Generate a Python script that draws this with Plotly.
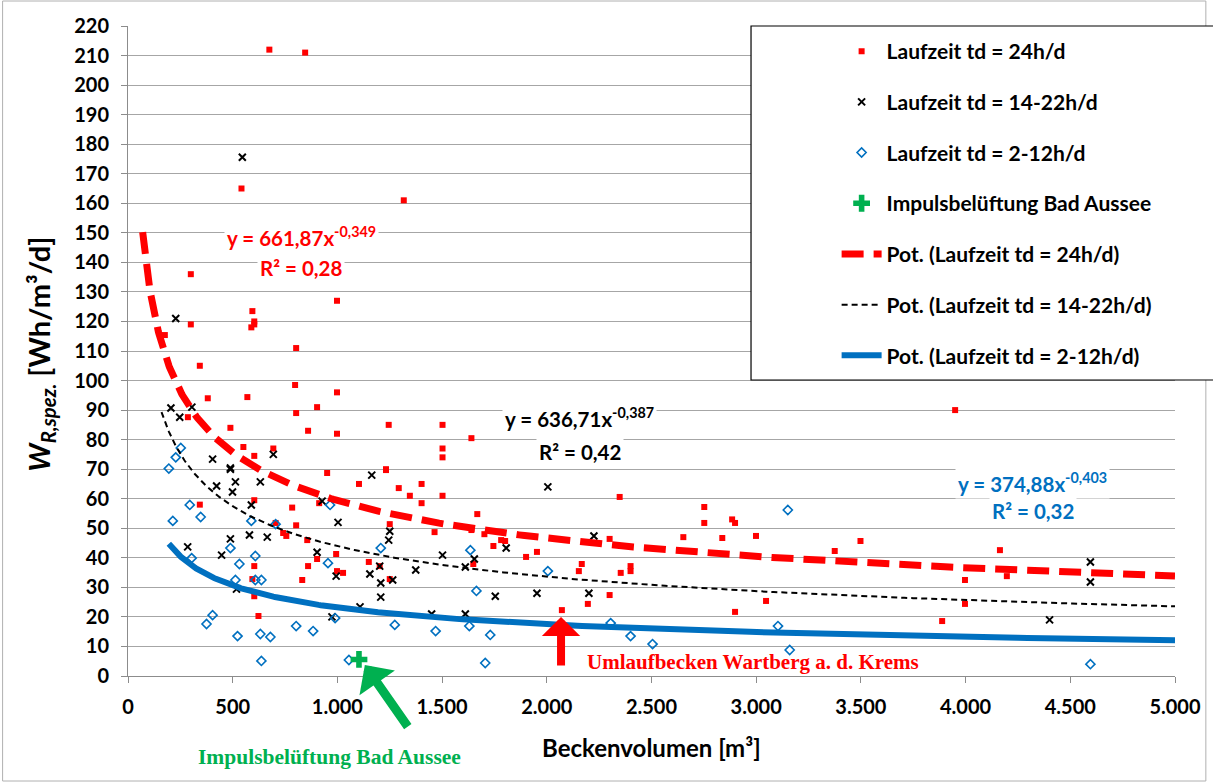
import numpy as np
import plotly.graph_objects as go

# ---------------- data ----------------
red_x = [675, 846, 542, 1317, 300, 594, 603, 603, 589, 998, 300, 176, 803, 343, 798, 998,
         381, 570, 903, 803, 286, 489, 860, 1245, 1502, 998, 551, 694, 603, 1502, 1502, 1232,
         951, 1232, 1103, 1293, 1402, 1346, 1502, 1402, 343, 603, 913, 784, 705, 803, 1250,
         1464, 741, 756, 856, 994, 903, 603, 860, 1150, 1202, 998, 1027, 594, 832, 1250, 603,
         623, 1640, 2348, 1668, 2752, 2752, 2885, 2899, 1640, 1702, 1782, 1801, 1745, 2300,
         2652, 2838, 2999, 1901, 1953, 1649, 2167, 2153, 2353, 2400, 2400, 2300, 2196, 2072,
         3047, 2899, 3950, 3498, 3375, 4164, 3997, 4197, 3997, 3888]
red_y = [212, 211, 165, 161, 136, 123.5, 120, 119, 118, 127, 119, 115.4, 111, 105, 98.5, 96,
         94, 94.4, 91, 89, 87.6, 84, 83, 85, 85, 82, 77.5, 77, 74.5, 77, 74, 70,
         68.7, 69.7, 65, 63.6, 65, 61, 61, 58.5, 58, 59.5, 58.5, 57, 51.8, 51, 51.4,
         48.7, 48.4, 47.4, 46, 41.3, 39.6, 37.2, 37.2, 38.6, 37.2, 35.5, 34.9, 32.8, 32.5, 32.8, 27,
         20.3, 80.5, 60.6, 54.8, 57.2, 51.8, 53, 51.8, 49.4, 48, 46, 45.7, 44, 46.4,
         47, 46.7, 47.4, 40.3, 42, 37.9, 37.9, 35.5, 34.9, 37.2, 35.5, 27.4, 24.4, 22.3,
         25.4, 21.7, 90, 45.7, 42.3, 42.6, 32.5, 33.8, 24.4, 18.6]

black_x = [546, 228, 205, 305, 247, 404, 694, 489, 489, 423, 513, 632, 1164, 499, 589, 927,
           1003, 1250, 1245, 489, 580, 665, 285, 447, 903, 1502, 1202, 1374, 994, 1155, 1207,
           1264, 1207, 518, 1108, 974, 1450, 2005, 2225, 1806, 1654, 1611, 1754, 1953, 2201,
           1611, 4596, 4596, 4401]
black_y = [175.6, 121, 90.7, 91, 87.6, 73.4, 75, 70.4, 70, 64.3, 65.7, 65.7, 68, 62.3, 57.9, 59.2,
           52, 49, 46, 46.4, 47.7, 47, 43.7, 40.9, 41.9, 40.9, 37.2, 35.9, 33.8, 34.5, 31.5,
           32.5, 26.7, 29.4, 23.4, 20, 21, 64, 47.4, 43.3, 39.6, 36.9, 27, 28, 28,
           21, 38.6, 31.8, 19]

blue_x = [252, 228, 195, 295, 214, 347, 965, 589, 705, 489, 304, 608, 532, 1207, 955, 513,
          608, 637, 404, 375, 803, 989, 1274, 884, 1469, 523, 632, 680, 637, 1055, 1635,
          2005, 1664, 1630, 1730, 2305, 2400, 2505, 1706, 3104, 3151, 3160, 4596]
blue_y = [77.2, 74, 70.2, 57.9, 52.5, 53.8, 57.9, 52.5, 51.4, 43.3, 39.9, 40.6, 37.9, 43.3, 38.2, 32.5,
          32.5, 32.5, 20.6, 17.6, 16.9, 19.6, 17.3, 15.2, 15.2, 13.5, 14.2, 13.2, 5.1, 5.4, 42.6,
          35.5, 28.8, 16.9, 13.9, 17.9, 13.5, 10.8, 4.4, 16.9, 56.2, 8.8, 4]

green_x = [1103]
green_y = [5.6]

# power trend lines y = a * x^b (coefficients as printed in the chart)
trend_a = [661.87, 636.71, 374.88]
trend_b = [-0.349, -0.387, -0.403]
trend_xmin = [70, 160, 195]
trend_xmax = 5000

x_tickvals = [0, 500, 1000, 1500, 2000, 2500, 3000, 3500, 4000, 4500, 5000]
x_ticktext = ["0", "500", "1.000", "1.500", "2.000", "2.500", "3.000", "3.500", "4.000", "4.500", "5.000"]
y_tickvals = list(range(0, 221, 10))

names = ["Laufzeit td = 24h/d", "Laufzeit td = 14-22h/d", "Laufzeit td = 2-12h/d",
         "Impulsbelüftung Bad Aussee", "Pot. (Laufzeit td = 24h/d)",
         "Pot. (Laufzeit td = 14-22h/d)", "Pot. (Laufzeit td = 2-12h/d)"]

RED = "#ff0000"
BLUE = "#0070c0"
GREEN = "#00b050"
FONT = "Lato"

fig = go.Figure()

fig.add_trace(go.Scatter(x=red_x, y=red_y, mode="markers", name=names[0], legendgroup="g1",
                         marker=dict(symbol="square", size=6, color=RED)))
fig.add_trace(go.Scatter(x=black_x, y=black_y, mode="markers", name=names[1], legendgroup="g2",
                         marker=dict(symbol="x-thin", size=7, color="black",
                                     line=dict(color="black", width=2))))
fig.add_trace(go.Scatter(x=blue_x, y=blue_y, mode="markers", name=names[2], legendgroup="g3",
                         marker=dict(symbol="diamond-open", size=7, color=BLUE,
                                     line=dict(color=BLUE, width=1.6))))
fig.add_trace(go.Scatter(x=green_x, y=green_y, mode="markers", name=names[3], legendgroup="g4",
                         marker=dict(symbol="cross", size=14, color=GREEN)))

styles = [dict(color=RED, width=7, dash="22px,10px"),
          dict(color="black", width=2, dash="6px,4px"),
          dict(color=BLUE, width=6, dash="solid")]
for i in range(3):
    xs = np.geomspace(trend_xmin[i], trend_xmax, 300)
    ys = trend_a[i] * xs ** trend_b[i]
    fig.add_trace(go.Scatter(x=xs, y=ys, mode="lines", name=names[4 + i],
                             legendgroup="g%d" % (5 + i), line=styles[i]))

# ---------------- layout ----------------
L, R, T, B = 128, 33, 26, 107
W, H = 1213, 783
pw, ph = W - L - R, H - T - B


def px2paper_x(px):
    return (px - L) / pw


def px2paper_y(py):
    return (H - B - py) / ph


fig.update_layout(
    width=W, height=H,
    margin=dict(l=L, r=R, t=T, b=B),
    paper_bgcolor="white", plot_bgcolor="white",
    font=dict(family=FONT, color="black"),
    showlegend=True,
    legend=dict(x=px2paper_x(840), y=px2paper_y(31), xanchor="left", yanchor="top",
                bgcolor="rgba(0,0,0,0)", borderwidth=0,
                font=dict(family=FONT, size=21, color="black", weight="bold"),
                tracegroupgap=20.4, itemwidth=40),
    xaxis=dict(range=[0, 5000], tickvals=x_tickvals, ticktext=x_ticktext,
               showgrid=False, zeroline=False, showline=True, linecolor="#8c8c8c", linewidth=1,
               ticks="outside", ticklen=6, tickcolor="#8c8c8c", ticklabelstandoff=7,
               tickfont=dict(family=FONT, size=20, color="black", weight="bold")),
    yaxis=dict(range=[0, 220], tickvals=y_tickvals,
               showgrid=True, gridcolor="#a6a6a6", gridwidth=1.3, zeroline=False,
               showline=True, linecolor="#8c8c8c", linewidth=1,
               ticks="outside", ticklen=6, tickcolor="#8c8c8c", ticklabelstandoff=8,
               tickfont=dict(family=FONT, size=20, color="black", weight="bold")),
)

shapes = [
    # legend box
    dict(type="rect", xref="paper", yref="paper", layer="above",
         x0=px2paper_x(754), x1=px2paper_x(1225), y0=px2paper_y(380), y1=px2paper_y(26),
         line=dict(color="black", width=1.2), fillcolor="white"),
    # outer chart border
    dict(type="rect", xref="paper", yref="paper", layer="below",
         x0=px2paper_x(2), x1=px2paper_x(1211), y0=px2paper_y(781), y1=px2paper_y(1),
         line=dict(color="#b0b0b0", width=1), fillcolor="rgba(0,0,0,0)"),
]
fig.update_layout(shapes=shapes)

eq_font = dict(family=FONT, size=20.5, weight="bold")
ann = []


def eq(x, y, text, color):
    ann.append(dict(x=x, y=y, xref="x", yref="y", text=text, showarrow=False,
                    font=dict(eq_font, color=color), bgcolor="white", borderpad=2,
                    xanchor="center", yanchor="middle"))


eq(827, 148.6, "y = 661,87x<sup>-0,349</sup>", RED)
eq(827, 138.1, "R² = 0,28", RED)
eq(2158, 87.6, "y = 636,71x<sup>-0,387</sup>", "black")
eq(2158, 75.8, "R² = 0,42", "black")
eq(4320, 65.6, "y = 374,88x<sup>-0,403</sup>", BLUE)
eq(4320, 55.8, "R² = 0,32", BLUE)

# axis titles
ann.append(dict(x=px2paper_x(654), y=px2paper_y(747), xref="paper", yref="paper",
                text="Beckenvolumen [m³]", showarrow=False, xanchor="center", yanchor="middle",
                font=dict(family=FONT, size=24, weight="bold", color="black")))
ann.append(dict(x=px2paper_x(40), y=px2paper_y(354), xref="paper", yref="paper",
                text="<i>W</i><sub><i>R,spez.</i></sub> [Wh/m³/d]", textangle=-90,
                showarrow=False, xanchor="center", yanchor="middle",
                font=dict(family=FONT, size=29, weight="bold", color="black")))

# callouts
ann.append(dict(x=2068, y=20, xref="x", yref="y", text="", showarrow=True,
                ax=0, ay=50, arrowhead=1, arrowsize=0.8, arrowwidth=8, arrowcolor=RED))
ann.append(dict(x=2182, y=4.7, xref="x", yref="y",
                text="Umlaufbecken Wartberg a. d. Krems", showarrow=False,
                xanchor="left", yanchor="middle",
                font=dict(family="Liberation Serif", size=21, weight="bold", color=RED)))
ann.append(dict(x=1131, y=3.7, xref="x", yref="y", text="", showarrow=True,
                ax=44, ay=63, arrowhead=1, arrowsize=0.8, arrowwidth=9, arrowcolor=GREEN))
ann.append(dict(x=px2paper_x(330), y=px2paper_y(757), xref="paper", yref="paper",
                text="Impulsbelüftung Bad Aussee", showarrow=False,
                xanchor="center", yanchor="middle",
                font=dict(family="Liberation Serif", size=21.5, weight="bold", color=GREEN)))

fig.update_layout(annotations=ann)

fig.write_html("out.html")
